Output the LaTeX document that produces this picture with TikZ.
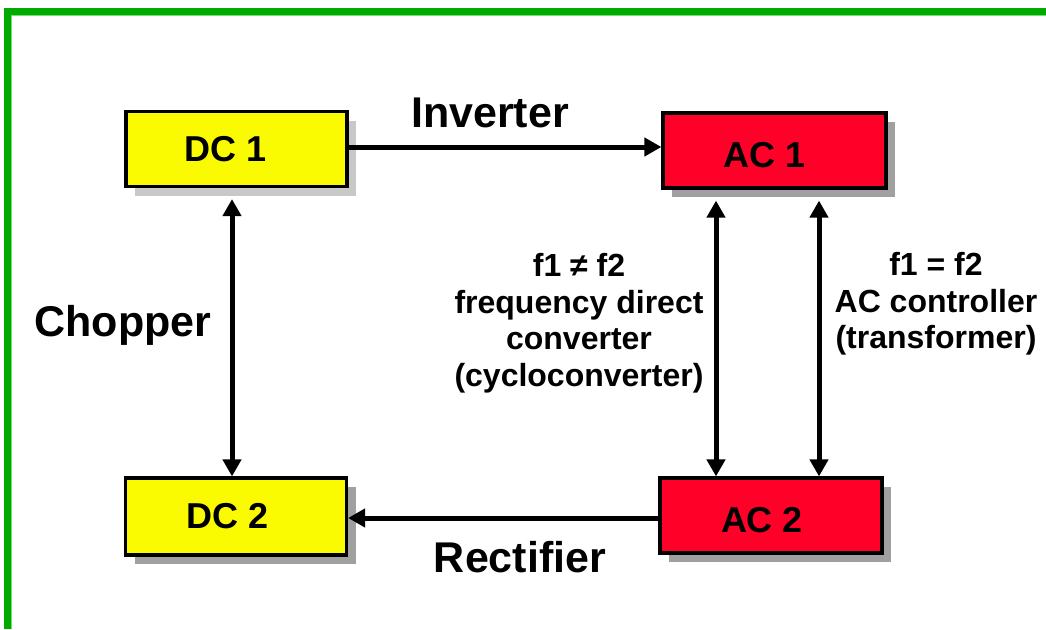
\documentclass[tikz,border=0pt]{standalone}
\usepackage{fontspec}
\setmainfont{Liberation Sans}
\usetikzlibrary{arrows.meta,shadows,calc}
\definecolor{frameg}{RGB}{0,170,0}
\definecolor{framel}{RGB}{110,225,110}
\definecolor{boxy}{RGB}{250,250,0}
\definecolor{boxr}{RGB}{255,0,40}
\definecolor{shl}{RGB}{200,200,200}
\definecolor{shd}{RGB}{160,160,160}
\tikzset{
  conv/.style={draw=black, line width=3.2pt, minimum width=221pt, minimum height=75pt,
    inner sep=0pt},
  boxtxt/.style={inner sep=0pt, font=\fontsize{36}{40}\selectfont\bfseries},
  shad/.style={drop shadow={shadow xshift=9pt, shadow yshift=-9pt, fill=#1, opacity=1}},
  arr/.style={line width=5pt, -{Triangle[length=17pt,width=18pt]}},
  darr/.style={line width=5pt, {Triangle[length=17pt,width=18pt]}-{Triangle[length=17pt,width=18pt]}},
  biglbl/.style={font=\fontsize{43}{48}\selectfont\bfseries, inner sep=0pt},
  smalllbl/.style={font=\fontsize{32}{36.5}\selectfont\bfseries, align=center, inner sep=0pt}
}
\begin{document}
\begin{tikzpicture}[x=1pt,y=-1pt]
\useasboundingbox (0,0) rectangle (1046,629);
\fill[white] (0,0) rectangle (1046,629);
% frame
\draw[frameg, line width=7pt] (7.5,629) -- (7.5,11.5) -- (1046,11.5);
\draw[framel, line width=1.2pt] (11.6,629) -- (11.6,15.6) -- (1046,15.6);
% boxes
\node[conv, fill=boxy, shad=shl] (DC1) at (236.5,149) {};
\node[conv, fill=boxr, shad=shd, minimum width=223pt] (AC1) at (774.5,150.5) {};
\node[conv, fill=boxy, shad=shd, minimum height=77pt] (DC2) at (236,516.5) {};
\node[conv, fill=boxr, shad=shd, minimum width=222pt] (AC2) at (771,515.5) {};
\node[boxtxt] (tDC1) at ($(DC1)+(-11,0)$) {DC 1};
\node[boxtxt] (tAC1) at ($(AC1)+(-10,5)$) {AC 1};
\node[boxtxt] (tDC2) at ($(DC2)+(-8,0)$) {DC 2};
\node[boxtxt] (tAC2) at ($(AC2)+(-9,5)$) {AC 2};
% connectors
\draw[arr] (DC1.east |- 0,147) -- (AC1.west |- 0,147);
\draw[arr] (AC2.west |- 0,518) -- (DC2.east |- 0,518);
\draw[darr] ($(DC1.south -| 232,0)+(0,11)$) -- (DC2.north -| 232,0);
\draw[darr] ($(AC1.south -| 716,0)+(0,11)$) -- (AC2.north -| 716,0);
\draw[darr] ($(AC1.south -| 819,0)+(0,11)$) -- (AC2.north -| 819,0);
% labels
\node[biglbl] (inv) at (490,113) {Inverter};
\node[biglbl] (rec) at (520,557) {Rectifier};
\node[biglbl] (chop) at (123,325) {Chopper};
\node[smalllbl] (cyc) at (579,323) {f1 ≠ f2\\frequency direct\\converter\\(cycloconverter)};
\node[smalllbl] (acc) at (936,304) {f1 = f2\\AC controller\\(transformer)};
\end{tikzpicture}
\end{document}
